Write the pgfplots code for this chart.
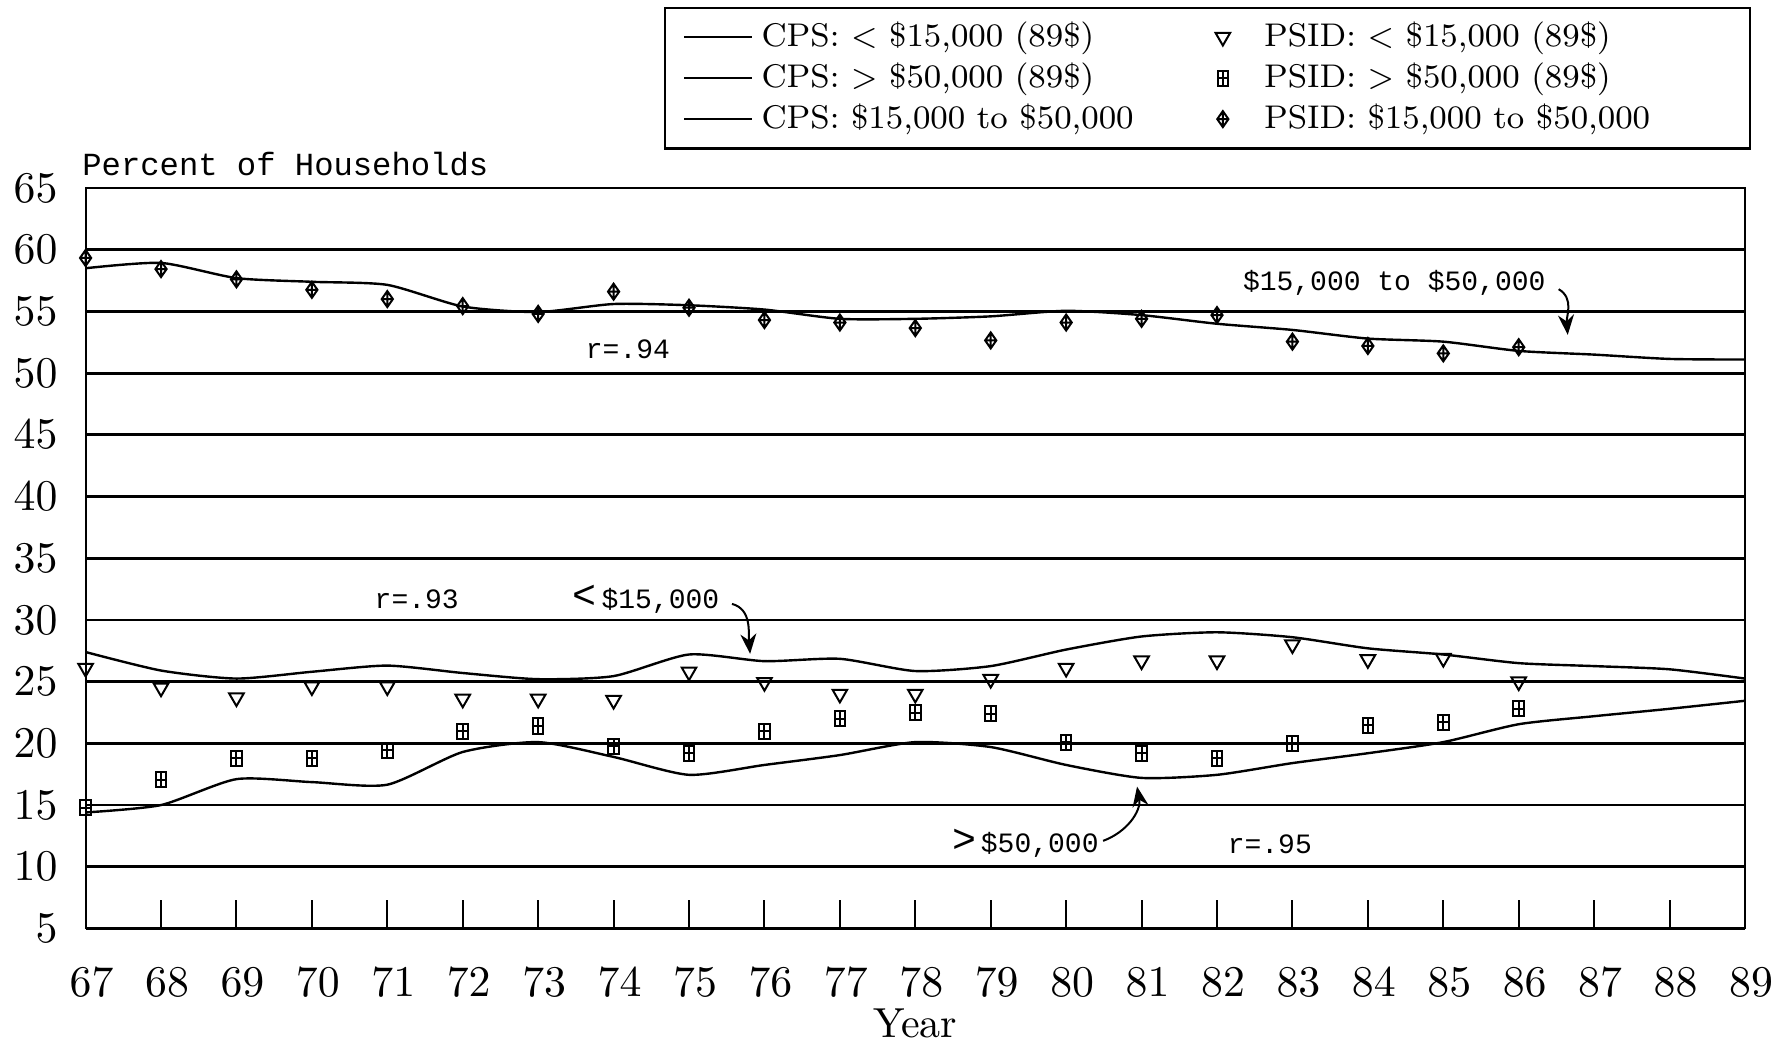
\documentclass[border=0pt]{standalone}
\usepackage{pgfplots}
\pgfplotsset{compat=1.18}
\usepackage{fontspec}
\newfontfamily\monofont{Liberation Mono}
\usetikzlibrary{arrows.meta}

\pgfdeclareplotmark{boxplus}{%
 \pgfpathrectangle{\pgfpoint{-0.7\pgfplotmarksize}{-\pgfplotmarksize}}{\pgfpoint{1.4\pgfplotmarksize}{2\pgfplotmarksize}}%
 \pgfpathmoveto{\pgfpoint{-0.7\pgfplotmarksize}{0pt}}\pgfpathlineto{\pgfpoint{0.7\pgfplotmarksize}{0pt}}%
 \pgfpathmoveto{\pgfpoint{0pt}{-\pgfplotmarksize}}\pgfpathlineto{\pgfpoint{0pt}{\pgfplotmarksize}}%
 \pgfusepathqstroke}
\pgfdeclareplotmark{diamondplus}{%
 \pgfpathmoveto{\pgfpoint{0pt}{\pgfplotmarksize}}%
 \pgfpathlineto{\pgfpoint{0.7\pgfplotmarksize}{0pt}}%
 \pgfpathlineto{\pgfpoint{0pt}{-\pgfplotmarksize}}%
 \pgfpathlineto{\pgfpoint{-0.7\pgfplotmarksize}{0pt}}%
 \pgfpathclose
 \pgfpathmoveto{\pgfpoint{-0.7\pgfplotmarksize}{0pt}}\pgfpathlineto{\pgfpoint{0.7\pgfplotmarksize}{0pt}}%
 \pgfpathmoveto{\pgfpoint{0pt}{-\pgfplotmarksize}}\pgfpathlineto{\pgfpoint{0pt}{\pgfplotmarksize}}%
 \pgfusepathqstroke}

\pgfplotsset{markleg/.style={legend image code/.code={%
  \path[draw=none] (0pt,0pt) -- (15.3pt,0pt);
  \draw[##1, draw=none] plot coordinates {(7pt,0pt)};}}}

\begin{document}
\begin{tikzpicture}
\begin{axis}[name=ax, scale only axis, width=414.8pt, height=185.1pt,
  xmin=67, xmax=89, ymin=5, ymax=65, clip=false,
  xtick={67,...,89}, ytick={5,10,...,65},
  xtick pos=left, tick align=inside, major tick length=7.1pt,
  ytick style={draw=none},
  xtick style={black, line width=0.5pt},
  ymajorgrids, grid style={black, line width=0.7pt},
  axis line style={line width=0.5pt},
  ticklabel style={font=\fontsize{10.5}{12}\selectfont},
  xticklabel style={yshift=-6.5pt, xshift=1.5pt},
  yticklabel style={xshift=-3.5pt},
  xlabel={Year},
  xlabel style={at={(axis description cs:0.5,-0.128)}, anchor=center, font=\fontsize{10.5}{12}\selectfont},
  legend cell align=left,
  transpose legend, legend columns=3,
  legend style={at={(axis description cs:1.0036,1.245)}, anchor=north east,
    draw=black, line width=0.6pt, font=\fontsize{8.2}{9.5}\selectfont,
    row sep=-1.4pt, inner xsep=4.5pt, inner ysep=1.5pt,
    /tikz/every even column/.append style={column sep=13.3pt}},
]
% CPS < 15,000
\addplot[black, line width=0.6pt, smooth, tension=0.4] coordinates {
(67,27.4) (68,25.9) (69,25.25) (70,25.8) (71,26.3) (72,25.7) (73,25.2) (74,25.45)
(75,27.2) (76,26.66) (77,26.85) (78,25.86) (79,26.26) (80,27.6) (81,28.66) (82,29.0)
(83,28.6) (84,27.7) (85,27.2) (86,26.5) (87,26.26) (88,26.0) (89,25.25)};
\addlegendentry{CPS: $<$ \$15,000 (89\$)}
% CPS > 50,000
\addplot[black, line width=0.6pt, smooth, tension=0.4] coordinates {
(67,14.4) (68,15.0) (69,17.1) (70,16.86) (71,16.65) (72,19.3) (73,20.1) (74,18.9)
(75,17.45) (76,18.25) (77,19.05) (78,20.1) (79,19.7) (80,18.25) (81,17.2) (82,17.45)
(83,18.4) (84,19.2) (85,20.1) (86,21.55) (87,22.2) (88,22.8) (89,23.45)};
\addlegendentry{CPS: $>$ \$50,000 (89\$)}
% CPS 15,000 to 50,000
\addplot[black, line width=0.6pt, smooth, tension=0.4] coordinates {
(67,58.5) (68,58.93) (69,57.7) (70,57.4) (71,57.15) (72,55.4) (73,54.95) (74,55.6)
(75,55.5) (76,55.15) (77,54.4) (78,54.4) (79,54.6) (80,55.05) (81,54.7) (82,54.0)
(83,53.5) (84,52.8) (85,52.55) (86,51.8) (87,51.5) (88,51.15) (89,51.1)};
\addlegendentry{CPS: \$15,000 to \$50,000}
% PSID < 15,000
\addplot[markleg, only marks, mark=triangle, mark size=2.1pt, mark options={rotate=180, black, line width=0.5pt}] coordinates {
(67,26.1) (68,24.5) (69,23.7) (70,24.6) (71,24.6) (72,23.6) (73,23.6) (74,23.5)
(75,25.8) (76,24.95) (77,24.0) (78,24.0) (79,25.2) (80,26.1) (81,26.7) (82,26.7)
(83,28.0) (84,26.8) (85,26.9) (86,25.0)};
\addlegendentry{PSID: $<$ \$15,000 (89\$)}
% PSID > 50,000
\addplot[markleg, only marks, mark=boxplus, mark size=1.9pt, mark options={black, line width=0.5pt}] coordinates {
(67,14.8) (68,17.05) (69,18.8) (70,18.8) (71,19.45) (72,20.97) (73,21.4) (74,19.77)
(75,19.2) (76,20.97) (77,22.0) (78,22.5) (79,22.4) (80,20.1) (81,19.2) (82,18.8)
(83,20.0) (84,21.45) (85,21.7) (86,22.8)};
\addlegendentry{PSID: $>$ \$50,000 (89\$)}
% PSID 15,000 to 50,000
\addplot[markleg, only marks, mark=diamondplus, mark size=2.0pt, mark options={black, line width=0.5pt}] coordinates {
(67,59.33) (68,58.43) (69,57.6) (70,56.75) (71,56.0) (72,55.43) (73,54.8) (74,56.6)
(75,55.3) (76,54.3) (77,54.1) (78,53.65) (79,52.65) (80,54.1) (81,54.4) (82,54.7)
(83,52.55) (84,52.2) (85,51.6) (86,52.1)};
\addlegendentry{PSID: \$15,000 to \$50,000\rule{18.4pt}{0pt}}

% annotations
\node[font=\monofont\fontsize{7}{8}\selectfont] at (axis cs:74.19,51.9) {r=.94};
\node[font=\monofont\fontsize{7}{8}\selectfont] at (axis cs:71.39,31.7) {r=.93};
\node[font=\monofont\fontsize{7}{8}\selectfont] at (axis cs:82.70,11.83) {r=.95};
\node[font=\monofont\fontsize{7}{8}\selectfont] at (axis cs:74.43,31.7) {{\fontsize{10}{10}\selectfont<}\,\$15,000};
\draw[line width=0.5pt, -{Stealth[length=5pt,width=4pt]}] (axis cs:75.57,31.3) to[out=-15,in=95] (axis cs:75.81,27.25);
\node[font=\monofont\fontsize{7}{8}\selectfont] at (axis cs:79.46,11.9) {{\fontsize{10}{10}\selectfont>}\,\$50,000};
\draw[line width=0.5pt, -{Stealth[length=5pt,width=4pt]}] (axis cs:80.49,12.1) to[out=20,in=-80] (axis cs:80.94,16.5);
\node[font=\monofont\fontsize{7}{8}\selectfont] at (axis cs:84.35,57.35) {\$15,000 to \$50,000};
\draw[line width=0.5pt, -{Stealth[length=5pt,width=4pt]}] (axis cs:86.53,56.8) to[out=-30,in=95] (axis cs:86.65,53.1);
\end{axis}
\node[anchor=west, inner sep=0pt, font=\monofont\fontsize{8.05}{10}\selectfont] at ([xshift=-1pt,yshift=5.9pt]ax.north west) {Percent of Households};
\pgfresetboundingbox
\useasboundingbox ([xshift=-21.4pt,yshift=-28.15pt]ax.south west) rectangle ([xshift=11.5pt,yshift=47pt]ax.north east);
\end{tikzpicture}
\end{document}
